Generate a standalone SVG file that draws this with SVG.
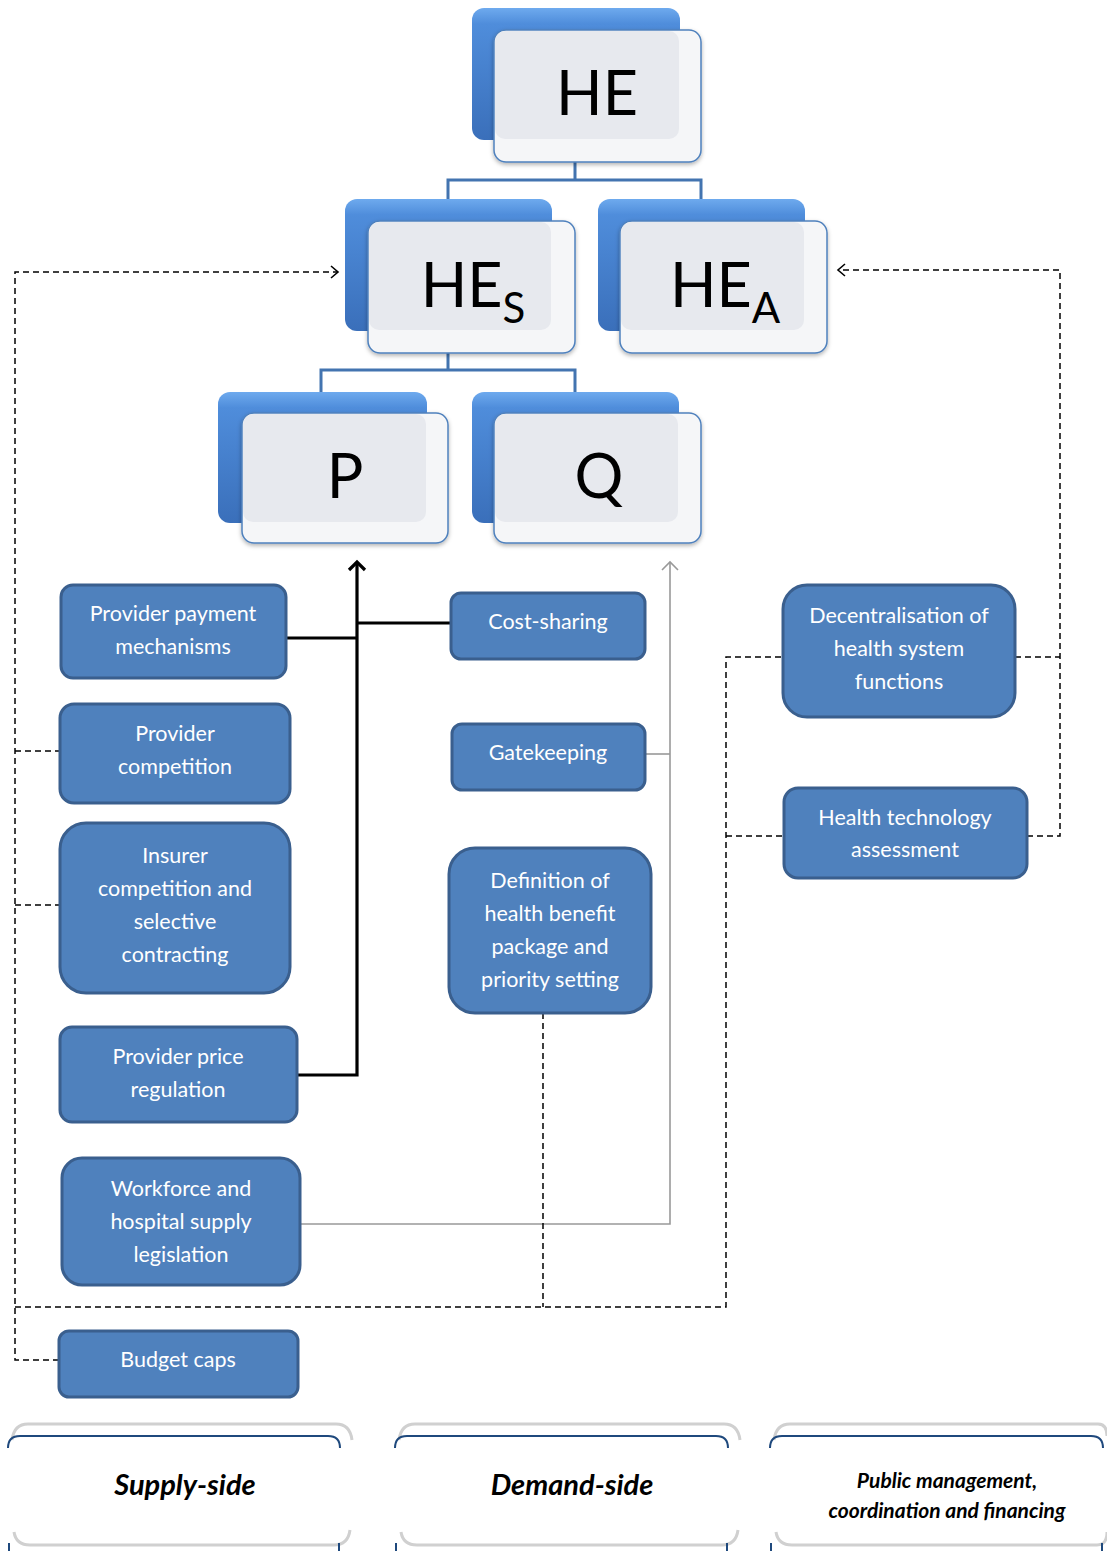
<svg xmlns="http://www.w3.org/2000/svg" width="1107" height="1551" viewBox="0 0 1107 1551">
<style>
.bg{fill:#ffffff}
.back{fill:url(#blueGrad)}
.front{fill:#f5f6f8;stroke:#4f81bd;stroke-width:1.5}
.ovl{fill:#e7e9ee}
.big{font-family:Lato,"Open Sans",sans-serif;font-size:61px;fill:#000;text-anchor:middle}
.sub{font-size:42px}
.node{fill:#4f81bd;stroke:#3a5f8e;stroke-width:3}
.lbl{font-family:Lato,"Open Sans",sans-serif;font-size:21.5px;fill:#ffffff;text-anchor:middle}
.tree{fill:none;stroke:#4374b0;stroke-width:3}
.blk{fill:none;stroke:#000;stroke-width:3.2}
.gry{fill:none;stroke:#999999;stroke-width:1.6}
.dsh{fill:none;stroke:#000;stroke-width:1.5;stroke-dasharray:6 4}
.cat{font-family:Lato,"Open Sans",sans-serif;font-weight:bold;font-style:italic;fill:#000;text-anchor:middle}
.catTop{fill:none;stroke:#1f497d;stroke-width:2}
.catGhost{fill:none;stroke:#d0d0d0;stroke-width:3}
</style>
<defs>
<linearGradient id="blueGrad" x1="0" y1="0" x2="0" y2="1">
<stop offset="0" stop-color="#6eaaee"/>
<stop offset="0.12" stop-color="#4f8ddb"/>
<stop offset="1" stop-color="#3a6fba"/>
</linearGradient>
<filter id="sh" x="-10%" y="-10%" width="120%" height="130%">
<feDropShadow dx="0" dy="2" stdDeviation="2" flood-color="#000" flood-opacity="0.3"/>
</filter>
<marker id="aBlk" markerUnits="userSpaceOnUse" markerWidth="22" markerHeight="22" refX="11" refY="11" orient="auto" viewBox="0 0 22 22">
<path d="M3,3 L11,11 L3,19" fill="none" stroke="#000" stroke-width="3.2"/>
</marker>
<marker id="aGry" markerUnits="userSpaceOnUse" markerWidth="22" markerHeight="22" refX="11" refY="11" orient="auto" viewBox="0 0 22 22">
<path d="M3,3 L11,11 L3,19" fill="none" stroke="#999999" stroke-width="1.6"/>
</marker>
<marker id="aDsh" markerUnits="userSpaceOnUse" markerWidth="18" markerHeight="18" refX="9" refY="9" orient="auto" viewBox="0 0 18 18">
<path d="M2,3 L9,9 L2,15" fill="none" stroke="#000" stroke-width="1.6"/>
</marker>
</defs>
<rect class="bg" x="0" y="0" width="1107" height="1551"/>

<g id="connectors">
<path class="tree" d="M575,162 V180 M448,200 V180 H701 V200"/>
<path class="tree" d="M448,353 V370 M321,392 V370 H575 V392"/>
<path class="blk" d="M297,1075 H357 V562" marker-end="url(#aBlk)"/>
<path class="blk" d="M286,638 H357"/>
<path class="blk" d="M357,623 H450"/>
<path class="gry" d="M300,1224 H670 V562" marker-end="url(#aGry)"/>
<path class="gry" d="M645,754 H670"/>
<path class="dsh" d="M59,1360 H15 V272 H338" marker-end="url(#aDsh)"/>
<path class="dsh" d="M15,751 H60"/>
<path class="dsh" d="M15,905 H60"/>
<path class="dsh" d="M15,1307 H726 V657 H783"/>
<path class="dsh" d="M543,1013 V1307"/>
<path class="dsh" d="M726,836 H784"/>
<path class="dsh" d="M1015,657 H1060"/>
<path class="dsh" d="M1027,836 H1060 V270 H838" marker-end="url(#aDsh)"/>
</g>

<g id="node-HE">
<rect class="back" x="472" y="8" width="208" height="132" rx="12"/>
<rect class="front" x="494" y="30" width="207" height="132" rx="12" filter="url(#sh)"/>
<rect class="ovl" x="495" y="31" width="184" height="108" rx="10"/>
<text class="big" x="597" y="115">HE</text>
</g>

<g id="node-HES">
<rect class="back" x="345" y="199" width="207" height="132" rx="12"/>
<rect class="front" x="368" y="221" width="207" height="132" rx="12" filter="url(#sh)"/>
<rect class="ovl" x="369" y="222" width="182" height="108" rx="10"/>
<text class="big" x="473" y="307">HE<tspan class="sub" dy="16">S</tspan></text>
</g>

<g id="node-HEA">
<rect class="back" x="598" y="199" width="207" height="132" rx="12"/>
<rect class="front" x="620" y="221" width="207" height="132" rx="12" filter="url(#sh)"/>
<rect class="ovl" x="621" y="222" width="183" height="108" rx="10"/>
<text class="big" x="725" y="307">HE<tspan class="sub" dy="16">A</tspan></text>
</g>

<g id="node-P">
<rect class="back" x="218" y="392" width="209" height="131" rx="12"/>
<rect class="front" x="242" y="413" width="206" height="130" rx="12" filter="url(#sh)"/>
<rect class="ovl" x="243" y="414" width="183" height="108" rx="10"/>
<text class="big" x="345" y="498">P</text>
</g>

<g id="node-Q">
<rect class="back" x="472" y="392" width="207" height="131" rx="12"/>
<rect class="front" x="494" y="413" width="207" height="130" rx="12" filter="url(#sh)"/>
<rect class="ovl" x="495" y="414" width="183" height="108" rx="10"/>
<text class="big" x="599" y="498">Q</text>
</g>

<g id="node-payment">
<rect class="node" x="61" y="585" width="225" height="93" rx="12"/>
<text class="lbl" x="173" y="621">Provider payment</text>
<text class="lbl" x="173" y="654">mechanisms</text>
</g>
<g id="node-provcomp">
<rect class="node" x="60" y="704" width="230" height="99" rx="14"/>
<text class="lbl" x="175" y="741">Provider</text>
<text class="lbl" x="175" y="774">competition</text>
</g>
<g id="node-insurer">
<rect class="node" x="60" y="823" width="230" height="170" rx="26"/>
<text class="lbl" x="175" y="863">Insurer</text>
<text class="lbl" x="175" y="896">competition and</text>
<text class="lbl" x="175" y="929">selective</text>
<text class="lbl" x="175" y="962">contracting</text>
</g>
<g id="node-price">
<rect class="node" x="60" y="1027" width="237" height="95" rx="12"/>
<text class="lbl" x="178" y="1064">Provider price</text>
<text class="lbl" x="178" y="1097">regulation</text>
</g>
<g id="node-workforce">
<rect class="node" x="62" y="1158" width="238" height="127" rx="20"/>
<text class="lbl" x="181" y="1196">Workforce and</text>
<text class="lbl" x="181" y="1229">hospital supply</text>
<text class="lbl" x="181" y="1262">legislation</text>
</g>
<g id="node-budget">
<rect class="node" x="59" y="1331" width="239" height="66" rx="10"/>
<text class="lbl" x="178" y="1367">Budget caps</text>
</g>
<g id="node-costsharing">
<rect class="node" x="451" y="593" width="194" height="66" rx="10"/>
<text class="lbl" x="548" y="629">Cost-sharing</text>
</g>
<g id="node-gatekeeping">
<rect class="node" x="452" y="724" width="193" height="66" rx="10"/>
<text class="lbl" x="548" y="760">Gatekeeping</text>
</g>
<g id="node-definition">
<rect class="node" x="449" y="848" width="202" height="165" rx="26"/>
<text class="lbl" x="550" y="888">Definition of</text>
<text class="lbl" x="550" y="921">health benefit</text>
<text class="lbl" x="550" y="954">package and</text>
<text class="lbl" x="550" y="987">priority setting</text>
</g>
<g id="node-decentral">
<rect class="node" x="783" y="585" width="232" height="132" rx="24"/>
<text class="lbl" x="899" y="623">Decentralisation of</text>
<text class="lbl" x="899" y="656">health system</text>
<text class="lbl" x="899" y="689">functions</text>
</g>
<g id="node-hta">
<rect class="node" x="784" y="788" width="243" height="90" rx="14"/>
<text class="lbl" x="905" y="825">Health technology</text>
<text class="lbl" x="905" y="857">assessment</text>
</g>

<g id="cat-supply">
<path class="catGhost" d="M12,1440 Q14,1424 28,1424 L336,1424 Q350,1424 352,1440"/>
<path class="catTop" d="M8,1448 Q8,1436 20,1436 L328,1436 Q340,1436 340,1448"/>
<path class="catGhost" d="M14,1532 Q16,1545 30,1545 L334,1545 Q348,1545 350,1530"/>
<path class="catTop" d="M9,1543 V1551 M339,1543 V1551"/>
<text class="cat" x="185" y="1495" font-size="29">Supply-side</text>
</g>
<g id="cat-demand">
<path class="catGhost" d="M399,1440 Q401,1424 415,1424 L724,1424 Q738,1424 740,1440"/>
<path class="catTop" d="M395,1448 Q395,1436 407,1436 L716,1436 Q728,1436 728,1448"/>
<path class="catGhost" d="M401,1532 Q403,1545 417,1545 L722,1545 Q736,1545 738,1530"/>
<path class="catTop" d="M396,1543 V1551 M727,1543 V1551"/>
<text class="cat" x="572" y="1495" font-size="29">Demand-side</text>
</g>
<g id="cat-public">
<path class="catGhost" d="M774,1440 Q776,1424 790,1424 L1098,1424 Q1107,1424 1107,1436"/>
<path class="catTop" d="M770,1448 Q770,1436 782,1436 L1091,1436 Q1103,1436 1103,1448"/>
<path class="catGhost" d="M776,1532 Q778,1545 792,1545 L1097,1545 Q1107,1545 1107,1532"/>
<path class="catTop" d="M771,1543 V1551 M1102,1543 V1551"/>
<text class="cat" x="947" y="1488" font-size="21">Public management,</text>
<text class="cat" x="947" y="1518" font-size="21">coordination and financing</text>
</g>
</svg>
